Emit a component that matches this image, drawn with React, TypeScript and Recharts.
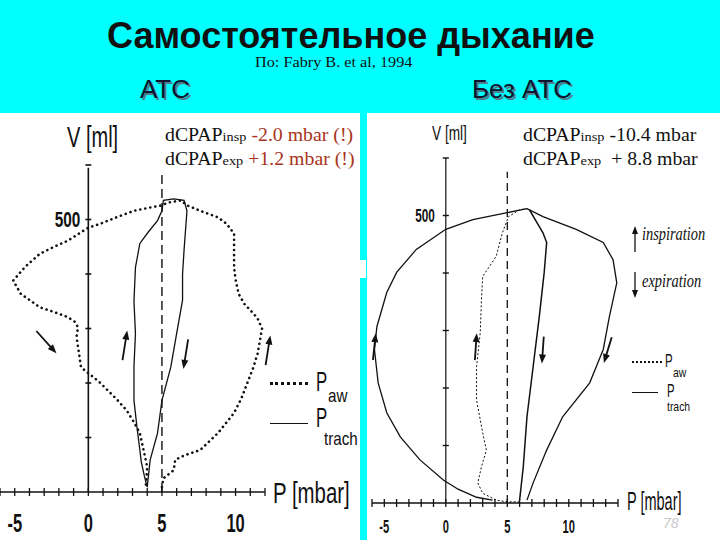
import { LineChart, Line, XAxis, YAxis, ReferenceLine, ReferenceDot } from "recharts";

const CYAN = "#00ffff";
const INK = "#111";
const RED = "#a8321c";

// tick values
const V_TICKS = [100, 200, 300, 400, 500, 600];
const P_LABELS = [-5, 0, 5, 10];
const P_MINOR_ATC = [-6, -5, -4, -3, -2, -1, 0, 1, 2, 3, 4, 5, 6, 7, 8, 9, 10, 11, 12];
const P_MINOR_NO = [-6, -5, -4, -3, -2, -1, 0, 1, 2, 3, 4, 5, 6, 7, 8, 9, 10, 11, 12, 13, 14];

// ATC: P-V loops (P mbar, V ml)
const atcPaw = [
  { p: 5.0, v: 9 }, { p: 5.1, v: 25 }, { p: 5.8, v: 40 }, { p: 5.9, v: 59 }, { p: 6.6, v: 68 },
  { p: 7.6, v: 77 }, { p: 8.8, v: 108 }, { p: 9.9, v: 145 }, { p: 10.4, v: 172 }, { p: 10.8, v: 200 },
  { p: 11.2, v: 228 }, { p: 11.5, v: 254 }, { p: 11.8, v: 300 }, { p: 11.5, v: 318 }, { p: 11.2, v: 328 },
  { p: 10.6, v: 345 }, { p: 10.2, v: 364 }, { p: 10.0, v: 390 }, { p: 9.9, v: 412 }, { p: 9.9, v: 445 },
  { p: 9.9, v: 474 }, { p: 9.4, v: 492 }, { p: 8.8, v: 504 }, { p: 7.6, v: 516 }, { p: 6.7, v: 526 },
  { p: 6.3, v: 535 }, { p: 5.4, v: 531 }, { p: 5.0, v: 526 }, { p: 4.0, v: 521 }, { p: 3.1, v: 516 },
  { p: 2.0, v: 505 }, { p: 0.8, v: 492 }, { p: 0, v: 485 }, { p: -1.4, v: 461 }, { p: -2.4, v: 449 },
  { p: -3.3, v: 437 }, { p: -4.3, v: 413 }, { p: -5.1, v: 388 }, { p: -4.6, v: 364 }, { p: -3.3, v: 339 },
  { p: -2.3, v: 330 }, { p: -1.4, v: 321 }, { p: -0.9, v: 312 }, { p: -0.7, v: 302 }, { p: -0.8, v: 285 },
  { p: -0.7, v: 266 }, { p: -0.6, v: 248 }, { p: -0.5, v: 229 }, { p: 0, v: 218 }, { p: 0.7, v: 203 },
  { p: 1.3, v: 187 }, { p: 2.0, v: 168 }, { p: 2.6, v: 150 }, { p: 3.1, v: 128 }, { p: 3.5, v: 108 },
  { p: 3.8, v: 71 }, { p: 4.0, v: 46 }, { p: 3.9, v: 9 },
];
const atcTrach = [
  { p: 4.0, v: 9 }, { p: 3.8, v: 30 }, { p: 3.6, v: 55 }, { p: 3.5, v: 77 }, { p: 3.3, v: 120 },
  { p: 3.1, v: 168 }, { p: 3.1, v: 230 }, { p: 3.2, v: 291 }, { p: 3.1, v: 350 }, { p: 3.2, v: 412 },
  { p: 3.5, v: 456 }, { p: 4.1, v: 478 }, { p: 4.7, v: 498 }, { p: 5.0, v: 516 }, { p: 5.1, v: 535 },
  { p: 5.8, v: 538 }, { p: 6.5, v: 535 }, { p: 6.7, v: 516 }, { p: 6.6, v: 480 }, { p: 6.5, v: 443 },
  { p: 6.4, v: 400 }, { p: 6.4, v: 352 }, { p: 6.0, v: 291 }, { p: 5.6, v: 229 }, { p: 5.0, v: 168 },
  { p: 4.7, v: 108 }, { p: 4.2, v: 59 }, { p: 4.0, v: 9 },
];
const atcArrows = [
  { p: -2.85, v: 275, angle: 138 },
  { p: 2.48, v: 269, angle: 9 },
  { p: 6.62, v: 253, angle: 189 },
  { p: 12.2, v: 260, angle: 9 },
];

// without ATC
const noTrach = [
  { p: 3.8, v: 5 }, { p: 2.5, v: 10 }, { p: 1.0, v: 24 }, { p: -0.2, v: 40 }, { p: -2.1, v: 75 },
  { p: -3.7, v: 115 }, { p: -4.8, v: 157 }, { p: -5.5, v: 209 }, { p: -5.8, v: 267 }, { p: -5.6, v: 307 },
  { p: -4.8, v: 366 }, { p: -4.0, v: 401 }, { p: -2.4, v: 441 }, { p: 0, v: 476 }, { p: 2.2, v: 493 },
  { p: 5.0, v: 505 }, { p: 6.6, v: 512 }, { p: 7.9, v: 498 }, { p: 10.6, v: 476 }, { p: 12.8, v: 453 },
  { p: 13.6, v: 423 }, { p: 13.9, v: 383 }, { p: 13.3, v: 324 }, { p: 12.8, v: 267 }, { p: 11.7, v: 209 },
  { p: 9.5, v: 150 }, { p: 8.2, v: 92 }, { p: 7.1, v: 35 }, { p: 6.6, v: 5 },
];
const noPawInsp = [
  { p: 6.0, v: 2 }, { p: 5.0, v: 2 }, { p: 4.1, v: 5 }, { p: 3.0, v: 17 }, { p: 2.6, v: 35 },
  { p: 2.9, v: 63 }, { p: 3.3, v: 92 }, { p: 3.0, v: 122 }, { p: 2.5, v: 179 }, { p: 2.5, v: 237 },
  { p: 2.8, v: 296 }, { p: 2.9, v: 354 }, { p: 3.0, v: 394 }, { p: 4.1, v: 429 }, { p: 4.6, v: 470 },
  { p: 5.1, v: 498 }, { p: 6.0, v: 510 }, { p: 6.6, v: 512 },
];
const noPawExp = [
  { p: 6.8, v: 510 }, { p: 7.4, v: 488 }, { p: 7.9, v: 470 }, { p: 8.2, v: 453 }, { p: 8.0, v: 401 },
  { p: 7.6, v: 324 }, { p: 7.1, v: 237 }, { p: 6.6, v: 150 }, { p: 6.3, v: 63 }, { p: 6.0, v: 5 },
];
const noArrows = [
  { p: -5.81, v: 272, angle: 6 },
  { p: 2.44, v: 272, angle: 4 },
  { p: 7.89, v: 266, angle: 184 },
  { p: 13.17, v: 266, angle: 197 },
];

type Cfg = { tickLen: number; labelDy: number; fs: number; sx: number };

function pTick(cfg: Cfg) {
  return (props: any) => {
    const { x, y, payload } = props;
    return (
      <g>
        <line x1={x} x2={x} y1={y - cfg.tickLen} y2={y + cfg.tickLen} stroke={INK} strokeWidth={1.3} />
        {P_LABELS.includes(payload.value) && (
          <text
            transform={`translate(${x} ${y + cfg.labelDy}) scale(${cfg.sx} 1)`}
            textAnchor="middle"
            fontFamily='"Liberation Sans", Arial, sans-serif'
            fontWeight={700}
            fontSize={cfg.fs}
            fill={INK}
          >
            {payload.value}
          </text>
        )}
      </g>
    );
  };
}

function Arrow({ cx, cy, angle, len }: { cx: number; cy: number; angle: number; len: number }) {
  const h = len / 2;
  return (
    <g transform={`translate(${cx} ${cy}) rotate(${angle})`}>
      <line x1={0} y1={h} x2={0} y2={-h + 4} stroke={INK} strokeWidth={1.8} />
      <path d={`M0,${-h} L-3.5,${-h + 9} L3.5,${-h + 9} Z`} fill={INK} />
    </g>
  );
}

function vLabel(text: string, dx: number, fs: number, sx: number) {
  return (props: any) => (
    <text
      transform={`translate(${props.cx - dx} ${props.cy + fs * 0.36}) scale(${sx} 1)`}
      textAnchor="end"
      fontFamily='"Liberation Sans", Arial, sans-serif'
      fontWeight={700}
      fontSize={fs}
      fill={INK}
    >
      {text}
    </text>
  );
}

type TxtProps = {
  x: number;
  b: number;
  size: number;
  sx?: number;
  bold?: boolean;
  serif?: boolean;
  italic?: boolean;
  color?: string;
  shadow?: string;
  children: React.ReactNode;
};

function Txt({ x, b, size, sx = 1, bold, serif, italic, color = INK, shadow, children }: TxtProps) {
  return (
    <div
      style={{
        position: "absolute",
        left: x,
        top: b - (serif ? 0.84 : 0.85) * size,
        fontSize: size,
        lineHeight: 1,
        whiteSpace: "nowrap",
        fontFamily: serif ? '"Liberation Serif", "Times New Roman", serif' : '"Liberation Sans", Arial, sans-serif',
        fontWeight: bold ? 700 : 400,
        fontStyle: italic ? "italic" : "normal",
        color,
        textShadow: shadow,
        transform: `scaleX(${sx})`,
        transformOrigin: "left top",
      }}
    >
      {children}
    </div>
  );
}

function Rule({ x, y, w, dotted, weight }: { x: number; y: number; w: number; dotted?: boolean; weight: number }) {
  return (
    <div
      style={{
        position: "absolute",
        left: x,
        top: y,
        width: w,
        borderTop: `${weight}px ${dotted ? "dotted" : "solid"} ${INK}`,
      }}
    />
  );
}

// small legend arrow (inspiration / expiration)
function LegendArrow({ x, y, down }: { x: number; y: number; down?: boolean }) {
  return (
    <svg
      width={8}
      height={26}
      style={{ position: "absolute", left: x, top: y, transform: down ? "rotate(180deg)" : undefined }}
    >
      <line x1={4} y1={26} x2={4} y2={5} stroke={INK} strokeWidth={1.3} />
      <path d="M4,0 L1,8 L7,8 Z" fill={INK} />
    </svg>
  );
}

function Dcpap({ x, b, sub, value, color }: { x: number; b: number; sub: string; value: string; color: string }) {
  return (
    <Txt x={x} b={b} size={18} sx={1.1} serif>
      dCPAP<span style={{ fontSize: 13 }}>{sub}</span>
      <span style={{ color }}>{value}</span>
    </Txt>
  );
}

export default function App() {
  return (
    <div
      style={{
        position: "absolute",
        left: 0,
        top: 0,
        width: 720,
        height: 540,
        background: CYAN,
        overflow: "hidden",
      }}
    >
      {/* left panel: ATC */}
      <div style={{ position: "absolute", left: 0, top: 113, width: 360, height: 427, background: "#fff" }}>
        <LineChart width={360} height={427} margin={{ top: 52, right: 95, bottom: 0, left: 0 }}>
          <XAxis
            type="number"
            dataKey="p"
            domain={[-6, 12]}
            allowDataOverflow
            ticks={P_MINOR_ATC}
            interval={0}
            height={48}
            tickSize={0}
            tickMargin={0}
            tickLine={false}
            axisLine={{ stroke: INK, strokeWidth: 1.6 }}
            tick={pTick({ tickLen: 4, labelDy: 40, fs: 25, sx: 0.66 })}
          />
          <YAxis type="number" dataKey="v" domain={[0, 600]} hide width={0} />
          <ReferenceLine segment={[{ x: 0, y: 0 }, { x: 0, y: 595 }]} stroke={INK} strokeWidth={1.6} />
          {V_TICKS.map((t) => (
            <ReferenceLine key={t} segment={[{ x: -0.2, y: t }, { x: 0.2, y: t }]} stroke={INK} strokeWidth={1.6} />
          ))}
          <ReferenceLine segment={[{ x: 5, y: 0 }, { x: 5, y: 590 }]} stroke={INK} strokeWidth={1.4} strokeDasharray="9 5" />
          <ReferenceDot x={0} y={500} r={0} shape={vLabel("500", 8, 22, 0.7)} />
          <Line
            data={atcPaw}
            dataKey="v"
            type="linear"
            stroke={INK}
            strokeWidth={2.6}
            strokeDasharray="0.1 5"
            strokeLinecap="round"
            dot={false}
            isAnimationActive={false}
          />
          <Line data={atcTrach} dataKey="v" type="linear" stroke={INK} strokeWidth={1.3} dot={false} isAnimationActive={false} />
          {atcArrows.map((a, i) => (
            <ReferenceDot
              key={i}
              x={a.p}
              y={a.v}
              r={0}
              ifOverflow="visible"
              shape={(pr: any) => <Arrow cx={pr.cx} cy={pr.cy} angle={a.angle} len={30} />}
            />
          ))}
        </LineChart>
      </div>

      {/* right panel: without ATC */}
      <div style={{ position: "absolute", left: 367, top: 113, width: 353, height: 427, background: "#fff" }}>
        <LineChart width={353} height={427} margin={{ top: 45, right: 102, bottom: 0, left: 5 }}>
          <XAxis
            type="number"
            dataKey="p"
            domain={[-6, 14]}
            allowDataOverflow
            ticks={P_MINOR_NO}
            interval={0}
            height={37}
            tickSize={0}
            tickMargin={0}
            tickLine={false}
            axisLine={{ stroke: INK, strokeWidth: 1.4 }}
            tick={pTick({ tickLen: 4, labelDy: 30, fs: 18, sx: 0.62 })}
          />
          <YAxis type="number" dataKey="v" domain={[0, 600]} hide width={0} />
          <ReferenceLine segment={[{ x: 0, y: 0 }, { x: 0, y: 600 }]} stroke={INK} strokeWidth={1.2} />
          {V_TICKS.map((t) => (
            <ReferenceLine key={t} segment={[{ x: -0.25, y: t }, { x: 0.25, y: t }]} stroke={INK} strokeWidth={1.4} />
          ))}
          <ReferenceLine segment={[{ x: 5, y: 0 }, { x: 5, y: 576 }]} stroke={INK} strokeWidth={1.3} strokeDasharray="8 5" />
          <ReferenceDot x={0} y={500} r={0} shape={vLabel("500", 11, 19, 0.62)} />
          <Line data={noTrach} dataKey="v" type="linear" stroke={INK} strokeWidth={1.3} dot={false} isAnimationActive={false} />
          <Line
            data={noPawInsp}
            dataKey="v"
            type="linear"
            stroke={INK}
            strokeWidth={1}
            strokeDasharray="2 2"
            dot={false}
            isAnimationActive={false}
          />
          <Line data={noPawExp} dataKey="v" type="linear" stroke={INK} strokeWidth={1.5} dot={false} isAnimationActive={false} />
          {noArrows.map((a, i) => (
            <ReferenceDot
              key={i}
              x={a.p}
              y={a.v}
              r={0}
              ifOverflow="visible"
              shape={(pr: any) => <Arrow cx={pr.cx} cy={pr.cy} angle={a.angle} len={27} />}
            />
          ))}
        </LineChart>
      </div>

      {/* small notch on separator */}
      <div style={{ position: "absolute", left: 360, top: 260, width: 6, height: 18, background: "#fff" }} />

      {/* header */}
      <Txt x={107} b={49} size={36} bold>Самостоятельное дыхание</Txt>
      <Txt x={255} b={68} size={14} sx={1.16} serif>По: Fabry B. et al, 1994</Txt>
      <Txt x={140} b={98} size={26} color="#0d1530" shadow="2px 2px 0 #4f7f8a">АТС</Txt>
      <Txt x={472} b={98} size={26} color="#0d1530" shadow="2px 2px 0 #4f7f8a">Без АТС</Txt>

      {/* annotations */}
      <Dcpap x={165} b={141} sub="insp" value=" -2.0 mbar (!)" color={RED} />
      <Dcpap x={165} b={165} sub="exp" value=" +1.2 mbar (!)" color={RED} />
      <Dcpap x={523} b={141} sub="insp" value=" -10.4 mbar" color={INK} />
      <Dcpap x={523} b={165} sub="exp" value={"\u00a0 + 8.8 mbar"} color={INK} />

      {/* axis titles */}
      <Txt x={67} b={148} size={29} sx={0.69}>V [ml]</Txt>
      <Txt x={273} b={503} size={30} sx={0.68}>P [mbar]</Txt>
      <Txt x={432} b={140} size={21} sx={0.65}>V [ml]</Txt>
      <Txt x={627} b={510} size={25} sx={0.58}>P [mbar]</Txt>

      {/* left legend */}
      <Rule x={270} y={382} w={38} dotted weight={3} />
      <Txt x={316} b={392} size={28} sx={0.6}>P</Txt>
      <Txt x={328} b={402} size={19} sx={0.8}>aw</Txt>
      <Rule x={270} y={423} w={38} weight={1.5} />
      <Txt x={316} b={428} size={28} sx={0.6}>P</Txt>
      <Txt x={324} b={445} size={19} sx={0.8}>trach</Txt>

      {/* right legend */}
      <LegendArrow x={631} y={226} />
      <Txt x={642} b={240} size={18} serif italic sx={0.8}>inspiration</Txt>
      <LegendArrow x={631} y={272} down />
      <Txt x={642} b={287} size={18} serif italic sx={0.8}>expiration</Txt>
      <Rule x={632} y={361} w={30} dotted weight={2} />
      <Txt x={665} b={367} size={19} sx={0.6}>P</Txt>
      <Txt x={673} b={377} size={13} sx={0.8}>aw</Txt>
      <Rule x={632} y={392} w={26} weight={1.5} />
      <Txt x={667} b={397} size={19} sx={0.6}>P</Txt>
      <Txt x={667} b={411} size={13} sx={0.8}>trach</Txt>

      <Txt x={663} b={528} size={14} italic color="#c8c8c8">78</Txt>
    </div>
  );
}
